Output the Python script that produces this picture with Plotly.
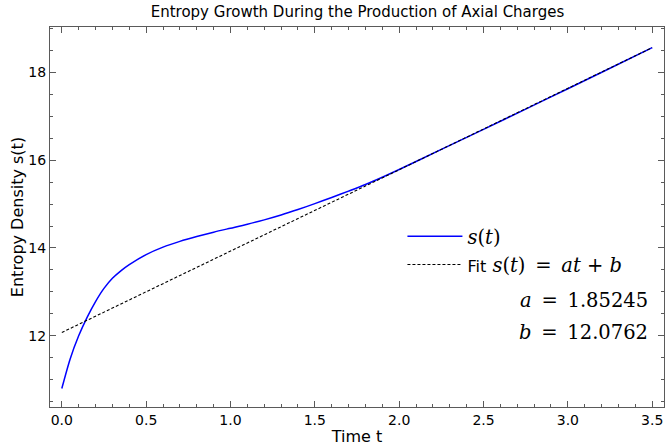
import plotly.graph_objects as go

# Entropy density s(t) sampled over time
t_vals = [0.0, 0.05, 0.1, 0.15, 0.2, 0.25, 0.3, 0.35, 0.4, 0.5, 0.6, 0.7, 0.8,
          0.9, 1.0, 1.1, 1.2, 1.3, 1.4, 1.5, 1.6, 1.7, 1.8, 1.9, 2.0, 2.25,
          2.5, 2.75, 3.0, 3.25, 3.5]
s_vals = [10.80, 11.48, 12.00, 12.42, 12.78, 13.08, 13.31, 13.48, 13.62, 13.85,
          14.02, 14.15, 14.26, 14.36, 14.45, 14.54, 14.64, 14.75, 14.875, 15.01,
          15.15, 15.295, 15.445, 15.61, 15.785, 16.245, 16.70, 17.16, 17.625,
          18.09, 18.56]

# Linear fit parameters s(t) = a t + b
a = 1.85245
b = 12.0762
fit_t = [0.0, 3.5]
fit_s = [a * x + b for x in fit_t]

SANS = "DejaVu Sans"
SERIF = "DejaVu Serif"
MATH_SIZE = 19.5
SP = "&#8194;"  # en space around relations in the math labels

fig = go.Figure()
fig.add_trace(go.Scatter(
    x=t_vals, y=s_vals, mode="lines",
    line=dict(color="#0000ff", width=1.5, shape="spline", smoothing=0.8),
    name="<i>s</i>(<i>t</i>)",
))
fig.add_trace(go.Scatter(
    x=fit_t, y=fit_s, mode="lines",
    line=dict(color="black", width=1.1, dash="3px,2px"),
    name=(f"<span style='font-family:{SANS};font-size:16px'>Fit</span> "
          f"<i>s</i>(<i>t</i>){SP}={SP}<i>at</i> + <i>b</i>"),
))

axis_common = dict(
    showline=True, linecolor="#5a5a5a", linewidth=1, mirror="allticks",
    ticks="inside", ticklen=6, tickcolor="#5a5a5a", tickwidth=1,
    showgrid=False, zeroline=False,
    tickfont=dict(family=SANS, size=14, color="black"),
)

fig.update_xaxes(
    range=[-0.07, 3.57], tick0=0, dtick=0.5, tickformat=".1f",
    minor=dict(ticks="inside", dtick=0.1, ticklen=3, tickcolor="#5a5a5a"),
    title=dict(text="Time t", font=dict(family=SANS, size=16, color="black"), standoff=4),
    **axis_common,
)
fig.update_yaxes(
    range=[10.38, 19.03], tick0=0, dtick=2,
    minor=dict(ticks="inside", dtick=0.5, ticklen=3, tickcolor="#5a5a5a"),
    title=dict(text="Entropy Density s(t)", font=dict(family=SANS, size=16, color="black"), standoff=0),
    **axis_common,
)

fig.add_annotation(text=f"<i>a</i>{SP}={SP}{a}", xref="paper", yref="paper",
                   x=0.978, y=0.28, xanchor="right", yanchor="middle",
                   showarrow=False, font=dict(family=SERIF, size=MATH_SIZE, color="black"))
fig.add_annotation(text=f"<i>b</i>{SP}={SP}{b}", xref="paper", yref="paper",
                   x=0.978, y=0.195, xanchor="right", yanchor="middle",
                   showarrow=False, font=dict(family=SERIF, size=MATH_SIZE, color="black"))

fig.update_layout(
    width=667, height=448,
    margin=dict(l=50, r=3, t=27, b=41),
    paper_bgcolor="white", plot_bgcolor="white",
    title=dict(text="Entropy Growth During the Production of Axial Charges",
               x=0.536, xanchor="center", y=0.974, yanchor="middle",
               font=dict(family=SANS, size=15, color="black")),
    legend=dict(x=0.574, y=0.5, xanchor="left", yanchor="top",
                bgcolor="rgba(0,0,0,0)", itemwidth=55, tracegroupgap=0,
                font=dict(family=SERIF, size=MATH_SIZE, color="black")),
    showlegend=True,
)

fig.write_html("out.html")
